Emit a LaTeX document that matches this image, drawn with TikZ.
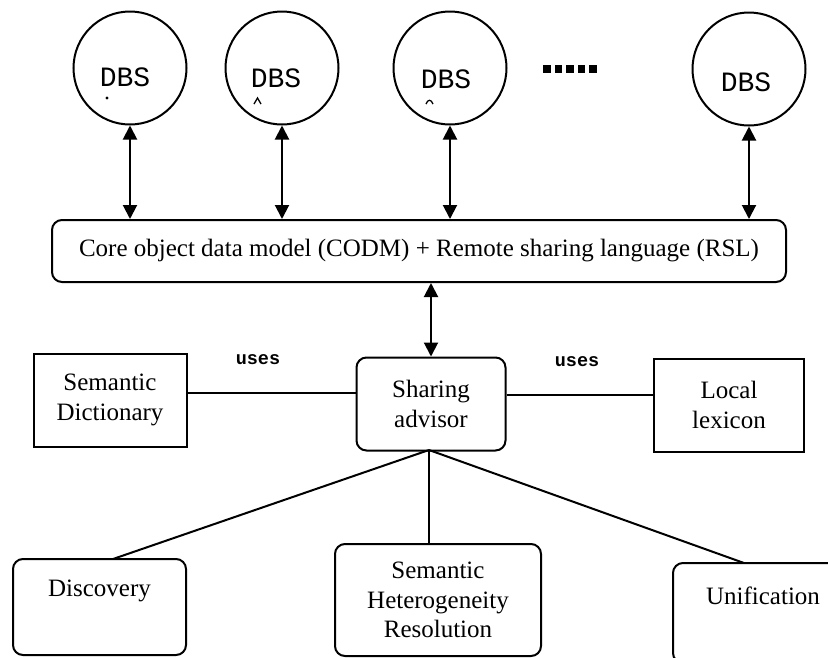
\documentclass[tikz,border=0pt]{standalone}
\usepackage{fontspec}
\setmainfont{Liberation Serif}
\newfontfamily\monof{Liberation Mono}
\usetikzlibrary{arrows.meta,calc}
\begin{document}
\begin{tikzpicture}[x=1pt,y=-1pt,
  line width=2pt,
  dbs/.style={draw,circle,minimum size=113pt,inner sep=0pt},
  dbstext/.style={font=\monof\fontsize{28}{32}\selectfont},
  txt/.style={font=\fontsize{25}{29.5}\selectfont,align=center},
  rbox/.style={draw,rounded corners=10pt,inner sep=0pt,txt},
  sbox/.style={draw,inner sep=0pt,txt},
  biarrow/.style={{Triangle[length=14pt,width=14pt]}-{Triangle[length=14pt,width=14pt]}},
  usestext/.style={font=\monof\bfseries\fontsize{18.5}{20}\selectfont}]
\clip (0,0) rectangle (828,657);
\useasboundingbox (0,0) rectangle (828,657);
% DBS circles
\node[dbs] (d1) at (130,68) {};
\node[dbs] (d2) at (282,68) {};
\node[dbs] (d3) at (450,68) {};
\node[dbs] (d4) at (749,69) {};
\node[dbstext] (t1) at (125,77) {DBS};
\node[dbstext] (t2) at (276,78) {DBS};
\node[dbstext] (t3) at (446,79) {DBS};
\node[dbstext] (t4) at (746,82) {DBS};
% small marks under DBS
\fill (107,98) circle (1.6pt);
\draw[line width=1.3pt] (254,104) -- (257.5,98) -- (261,104);
\draw[line width=1.3pt] (426,104) .. controls (428,99) and (431,99) .. (433,104);
% dots
\node[inner sep=0pt] (dots) at (570,69) {\rule{7.5pt}{7.5pt}\hspace{4pt}\rule{7.5pt}{7.5pt}\hspace{4pt}\rule{7.5pt}{7.5pt}\hspace{4pt}\rule{7.5pt}{7.5pt}\hspace{4pt}\rule{7.5pt}{7.5pt}};
% CODM box
\node[rbox,minimum width=734pt,minimum height=62pt] (codm) at (419,251) {Core object data model (CODM) + Remote sharing language (RSL)};
\draw[biarrow] (d1.south) -- (d1.south |- codm.north);
\draw[biarrow] (d2.south) -- (d2.south |- codm.north);
\draw[biarrow] (d3.south) -- (d3.south |- codm.north);
\draw[biarrow] (d4.south) -- (d4.south |- codm.north);
% middle row
\node[rbox,minimum width=149pt,minimum height=93pt] (sa) at (431,404) {Sharing\\advisor};
\node[sbox,minimum width=153pt,minimum height=93pt] (sd) at (110,400) {Semantic\\Dictionary};
\node[sbox,minimum width=150pt,minimum height=93pt] (ll) at (729,405) {Local\\lexicon};
\draw[biarrow] (sa.north |- codm.south) -- (sa.north);
\draw (sd.east |- 0,393) -- (sa.west |- 0,393);
\draw (sa.east |- 0,395) -- (ll.west |- 0,395);
\node[usestext] (u1) at (258,360) {uses};
\node[usestext] (u2) at (577,362) {uses};
% bottom row
\node[rbox,minimum width=173pt,minimum height=96pt] (disc) at (99.5,607) {Discovery\\[8pt]\mbox{}};
\node[rbox,minimum width=206pt,minimum height=112pt] (shr) at (438,600) {Semantic\\Heterogeneity\\Resolution};
\node[rbox,minimum width=180pt,minimum height=100pt] (uni) at (763,613) {Unification\\[6pt]\mbox{}};
\coordinate (sab) at (429,450);
\coordinate (discend) at (113,559);
\coordinate (uniend) at (744,563);
\draw (sab) -- (discend);
\draw (sab) -- (sab |- shr.north);
\draw (sab) -- (uniend);
\end{tikzpicture}
\end{document}
